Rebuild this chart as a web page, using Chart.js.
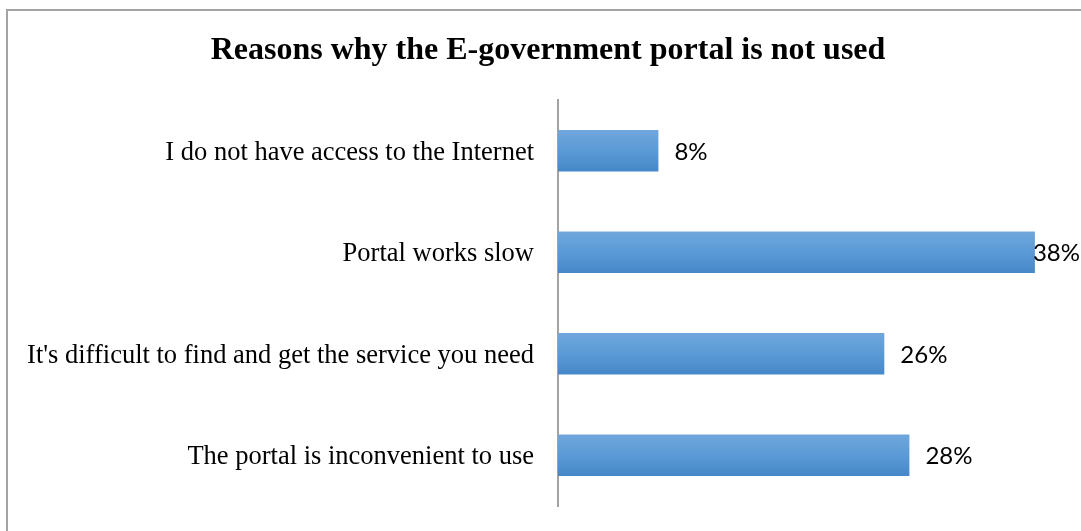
<!DOCTYPE html>
<html>
<head>
<meta charset="utf-8">
<title>Reasons why the E-government portal is not used</title>
<script src="https://cdn.jsdelivr.net/npm/chart.js@4/dist/chart.umd.min.js"></script>
<style>
  html, body { margin: 0; padding: 0; background: #ffffff; }
  #wrap { position: relative; width: 1081px; height: 531px; }
</style>
</head>
<body>
<div id="wrap"><canvas id="chart" width="1081" height="531"></canvas></div>
<script>
// Survey answers: share of respondents (percent) per reason
const reasons = [
  "I do not have access to the Internet",
  "Portal works slow",
  "It's difficult to find and get the service you need",
  "The portal is inconvenient to use"
];
const shares = [8, 38, 26, 28];
const chartTitle = "Reasons why the E-government portal is not used";

// Light frame along the top and left edges of the figure, plus the heading
const framePlugin = {
  id: 'frame',
  beforeDraw(chart) {
    const ctx = chart.ctx;
    ctx.save();
    ctx.fillStyle = '#ffffff';
    ctx.fillRect(0, 0, chart.width, chart.height);
    ctx.strokeStyle = '#a3a3a3';
    ctx.lineWidth = 2;
    ctx.beginPath();
    ctx.moveTo(7, chart.height + 5);
    ctx.lineTo(7, 10);
    ctx.lineTo(chart.width + 5, 10);
    ctx.stroke();

    ctx.fillStyle = '#000000';
    ctx.font = 'bold 32px "Liberation Serif", "Times New Roman", serif';
    ctx.textAlign = 'center';
    ctx.textBaseline = 'alphabetic';
    ctx.fillText(chartTitle, 548, 59);
    ctx.restore();
  }
};

// Percentage labels to the right of each bar, kept inside the canvas
const valueLabels = {
  id: 'valueLabels',
  afterDatasetsDraw(chart) {
    const ctx = chart.ctx;
    const meta = chart.getDatasetMeta(0);
    ctx.save();
    ctx.font = '24px Lato, "Liberation Sans", sans-serif';
    ctx.fillStyle = '#000000';
    ctx.textBaseline = 'middle';
    ctx.textAlign = 'left';
    meta.data.forEach((bar, i) => {
      const text = shares[i] + '%';
      const w = ctx.measureText(text).width;
      let x = bar.x + 16;
      if (x + w > chart.width - 1) x = chart.width - 1 - w;
      ctx.fillText(text, x, bar.y + 1.5);
    });
    ctx.restore();
  }
};

function barGradient(context) {
  const chart = context.chart;
  const area = chart.chartArea;
  if (!area || !chart.scales.y) return '#5b9bd5';
  const yScale = chart.scales.y;
  const cy = yScale.getPixelForValue(context.dataIndex);
  const half = 21;
  const g = chart.ctx.createLinearGradient(0, cy - half, 0, cy + half);
  g.addColorStop(0, '#70a7dd');
  g.addColorStop(0.5, '#5a9ad6');
  g.addColorStop(1, '#4687c8');
  return g;
}

new Chart(document.getElementById('chart'), {
  type: 'bar',
  data: {
    labels: reasons,
    datasets: [{
      data: shares,
      backgroundColor: barGradient,
      borderWidth: 0,
      categoryPercentage: 1.0,
      barPercentage: 0.41
    }]
  },
  plugins: [framePlugin, valueLabels],
  options: {
    indexAxis: 'y',
    responsive: false,
    animation: false,
    devicePixelRatio: 1,
    layout: { padding: { top: 100, right: 21, bottom: 25, left: 0 } },
    plugins: {
      legend: { display: false },
      tooltip: { enabled: false },
      title: { display: false }
    },
    scales: {
      x: {
        display: false,
        min: 0,
        max: 40
      },
      y: {
        afterFit(scale) {
          scale.width = 558;
          scale.paddingTop = 0;
          scale.paddingBottom = 0;
        },
        grid: { display: false, drawTicks: false },
        border: { display: true, color: '#a3a3a3', width: 2 },
        ticks: {
          color: '#000000',
          padding: 24,
          labelOffset: 2,
          font: { family: '"Liberation Serif", "Times New Roman", serif', size: 26.5 }
        }
      }
    }
  }
});
</script>
</body>
</html>
